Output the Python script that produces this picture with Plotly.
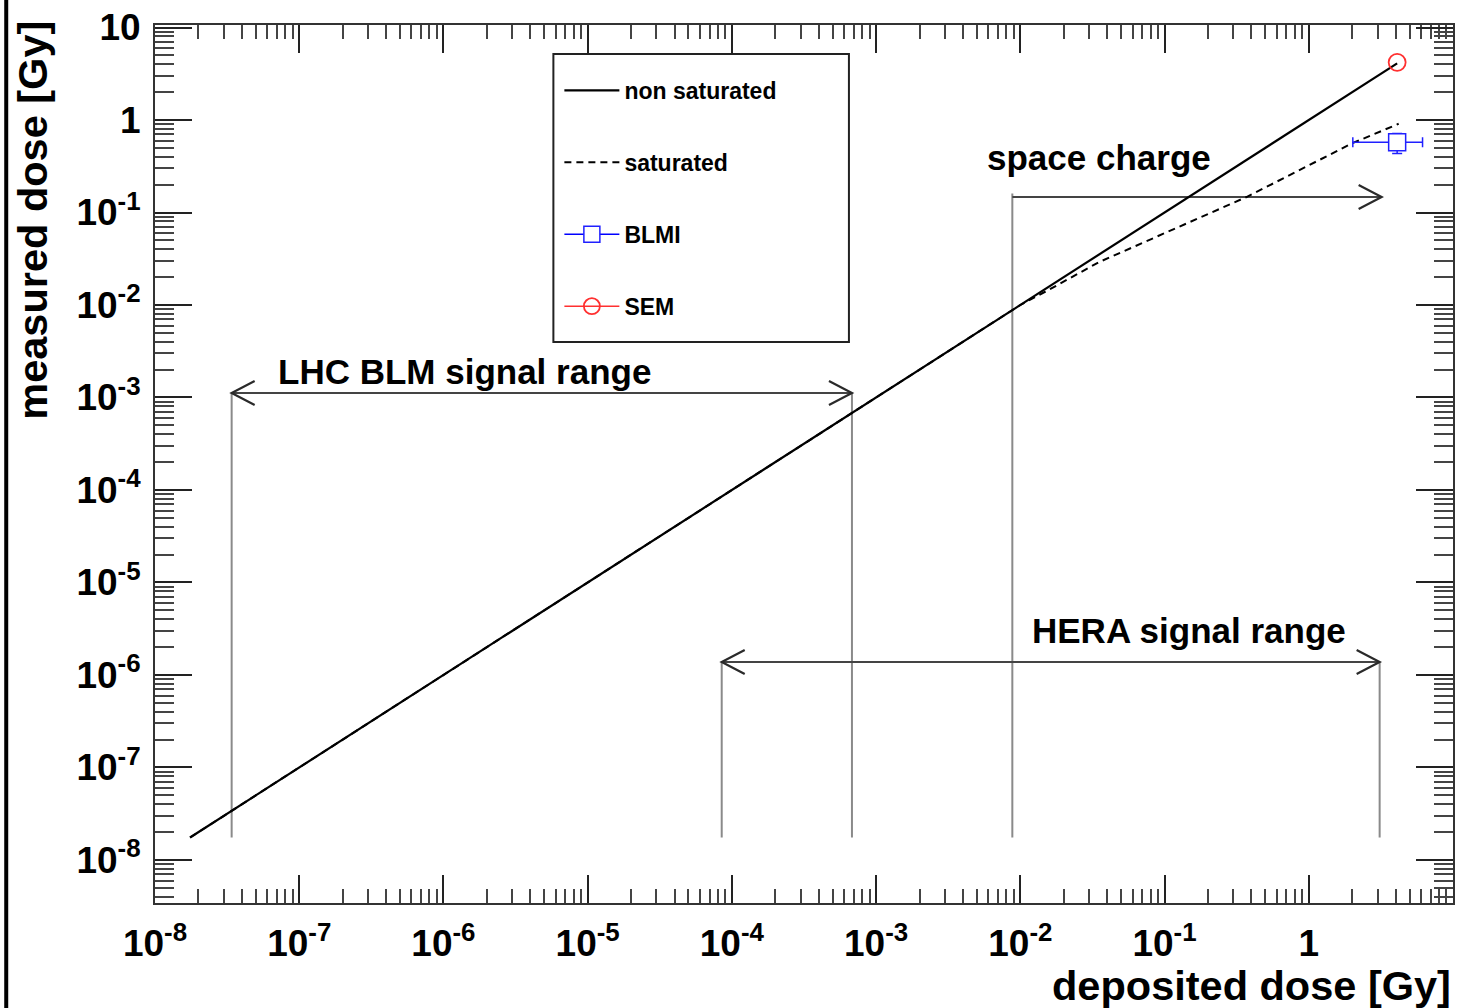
import math
import plotly.graph_objects as go

# ---------------- data ----------------
x_nonsat = [1.75e-8, 4.1]
y_nonsat = [1.75e-8, 4.1]

x_sat = [1.75e-8, 1.0e-2, 1.6e-2, 3.5e-2, 0.37, 2.0, 4.2]
y_sat = [1.75e-8, 1.0e-2, 1.48e-2, 2.9e-2, 0.147, 0.56, 0.91]

blmi_x = [4.1]
blmi_y = [0.575]
blmi_xerr_minus = [2.08]
blmi_xerr_plus = [2.05]
blmi_yerr = [0.14]

sem_x = [4.1]
sem_y = [4.2]

# range markers (vertical guide lines): x position, bottom, top
guide_x = [3.4e-8, 6.8e-4, 8.8e-3, 8.5e-5, 3.1]
guide_y0 = [1.75e-8, 1.75e-8, 1.75e-8, 1.75e-8, 1.75e-8]
guide_y1 = [1.12e-3, 1.12e-3, 0.16, 1.38e-6, 1.38e-6]

# range arrows
arrow_labels = ["LHC BLM signal range", "space charge", "HERA signal range"]
arrow_x0 = [3.4e-8, 8.8e-3, 8.5e-5]
arrow_x1 = [6.8e-4, 3.2, 3.1]
arrow_y = [1.12e-3, 0.147, 1.38e-6]
arrow_double = [True, False, True]
label_x = [6.9e-8, 5.7e-3, 1.17e-2]
label_y = [1.89e-3, 0.39, 3.06e-6]

major_vals = [1e-8, 1e-7, 1e-6, 1e-5, 1e-4, 1e-3, 1e-2, 1e-1, 1, 10]
major_text = ["10<sup>-8</sup>", "10<sup>-7</sup>", "10<sup>-6</sup>", "10<sup>-5</sup>",
              "10<sup>-4</sup>", "10<sup>-3</sup>", "10<sup>-2</sup>", "10<sup>-1</sup>",
              "1", "10"]

FONT = "Liberation Sans, Arial, Helvetica, sans-serif"

minor_vals = [m * 10.0 ** e for e in range(-9, 1) for m in range(2, 10)]

fig = go.Figure()

# guide lines
for gx, g0, g1 in zip(guide_x, guide_y0, guide_y1):
    fig.add_trace(go.Scatter(x=[gx, gx], y=[g0, g1], mode="lines",
                             line=dict(color="#8a8a8a", width=2),
                             showlegend=False, hoverinfo="skip"))

# arrow shafts
for a0, a1, ay in zip(arrow_x0, arrow_x1, arrow_y):
    fig.add_trace(go.Scatter(x=[a0, a1], y=[ay, ay], mode="lines",
                             line=dict(color="#444", width=2),
                             showlegend=False, hoverinfo="skip"))

fig.add_trace(go.Scatter(x=x_sat, y=y_sat, mode="lines", name="saturated",
                         legendgroup="b", legendrank=2,
                         line=dict(color="black", width=2, dash="7px,5px")))
fig.add_trace(go.Scatter(x=x_nonsat, y=y_nonsat, mode="lines", name="non saturated",
                         legendgroup="a", legendrank=1,
                         line=dict(color="black", width=2.2)))
fig.add_trace(go.Scatter(x=blmi_x, y=blmi_y, mode="lines+markers", name="BLMI",
                         legendgroup="c", legendrank=3,
                         line=dict(color="#0000ff", width=1.5),
                         marker=dict(symbol="square", size=17, color="white",
                                     line=dict(color="#2020ff", width=1.5)),
                         error_x=dict(type="data", symmetric=False,
                                      array=blmi_xerr_plus, arrayminus=blmi_xerr_minus,
                                      color="#2020ff", thickness=1.5, width=5),
                         error_y=dict(type="data", array=blmi_yerr,
                                      color="#2020ff", thickness=1.5, width=5)))
fig.add_trace(go.Scatter(x=sem_x, y=sem_y, mode="lines+markers", name="SEM",
                         legendgroup="d", legendrank=4,
                         line=dict(color="#ff3030", width=1.5),
                         marker=dict(symbol="circle-open", size=17,
                                     line=dict(color="#ff2020", width=1.8))))

# arrow heads (open chevrons, pixel sized, anchored at data values) and labels
HEAD_BACK, HEAD_HALF = 23, 12

def add_head(xv, yv, direction):
    b = -HEAD_BACK if direction > 0 else HEAD_BACK
    fig.add_shape(type="path", xref="x", yref="y",
                  xsizemode="pixel", ysizemode="pixel",
                  xanchor=xv, yanchor=yv,
                  path=f"M{b},{HEAD_HALF} L0,0 L{b},{-HEAD_HALF}",
                  line=dict(color="#2a2a2a", width=2.2))

for lab, a0, a1, ay, dbl, lx, ly in zip(arrow_labels, arrow_x0, arrow_x1, arrow_y,
                                        arrow_double, label_x, label_y):
    add_head(a1, ay, +1)
    if dbl:
        add_head(a0, ay, -1)
    fig.add_annotation(x=math.log10(lx), y=math.log10(ly), xref="x", yref="y",
                       text=lab, showarrow=False, xanchor="left", yanchor="middle",
                       font=dict(family=FONT, size=35, color="black", weight="bold"))

W, H = 1459, 1008
L, R, T, B = 155, 4, 25, 105
pw, ph = W - L - R, H - T - B

def px_x(p):
    return (p - L) / pw

def px_y(p):
    return 1 - (p - T) / ph

# axis titles
fig.add_annotation(x=1.0, y=px_y(985), xref="paper", yref="paper",
                   text="deposited dose [Gy]", showarrow=False,
                   xanchor="right", yanchor="middle",
                   font=dict(family=FONT, size=41.5, color="black", weight="bold"))
fig.add_annotation(x=px_x(32), y=px_y(19), xref="paper", yref="paper",
                   text="measured dose [Gy]", showarrow=False, textangle=-90,
                   xanchor="center", yanchor="top",
                   font=dict(family=FONT, size=41.5, color="black", weight="bold"))

# legend box and left frame line
fig.add_shape(type="rect", xref="paper", yref="paper",
              x0=px_x(554), x1=px_x(850), y0=px_y(342), y1=px_y(54),
              line=dict(color="#222", width=2), fillcolor="rgba(0,0,0,0)")
fig.add_shape(type="line", xref="paper", yref="paper",
              x0=px_x(6), x1=px_x(6), y0=px_y(0), y1=px_y(1008),
              line=dict(color="black", width=4))

axis_common = dict(type="log", showgrid=False, zeroline=False,
                   showline=True, linecolor="#333", linewidth=2, mirror="allticks",
                   ticks="inside", tickcolor="#222", tickwidth=1.5,
                   tickmode="array", tickvals=major_vals, ticktext=major_text,
                   tickfont=dict(family=FONT, size=37, color="black", weight="bold"))

fig.update_xaxes(**axis_common, range=[-8, 1], ticklen=28, ticklabelstandoff=7,
                 minor=dict(tickmode="array", tickvals=minor_vals, ticks="inside",
                            ticklen=14, tickcolor="#444", tickwidth=1.5, showgrid=False))
fig.update_yaxes(**axis_common, range=[-8.465, 1.027], ticklen=37, ticklabelstandoff=5,
                 minor=dict(tickmode="array", tickvals=minor_vals, ticks="inside",
                            ticklen=19, tickcolor="#444", tickwidth=1.5, showgrid=False))

fig.update_layout(
    width=W, height=H,
    margin=dict(l=L, r=R, t=T, b=B),
    paper_bgcolor="white", plot_bgcolor="white",
    showlegend=True,
    legend=dict(x=px_x(560), xanchor="left", y=px_y(69), yanchor="top",
                bgcolor="rgba(0,0,0,0)", borderwidth=0,
                font=dict(family=FONT, size=23, color="black", weight="bold"),
                itemwidth=55, traceorder="grouped", tracegroupgap=39),
)

fig.write_html("out.html")
